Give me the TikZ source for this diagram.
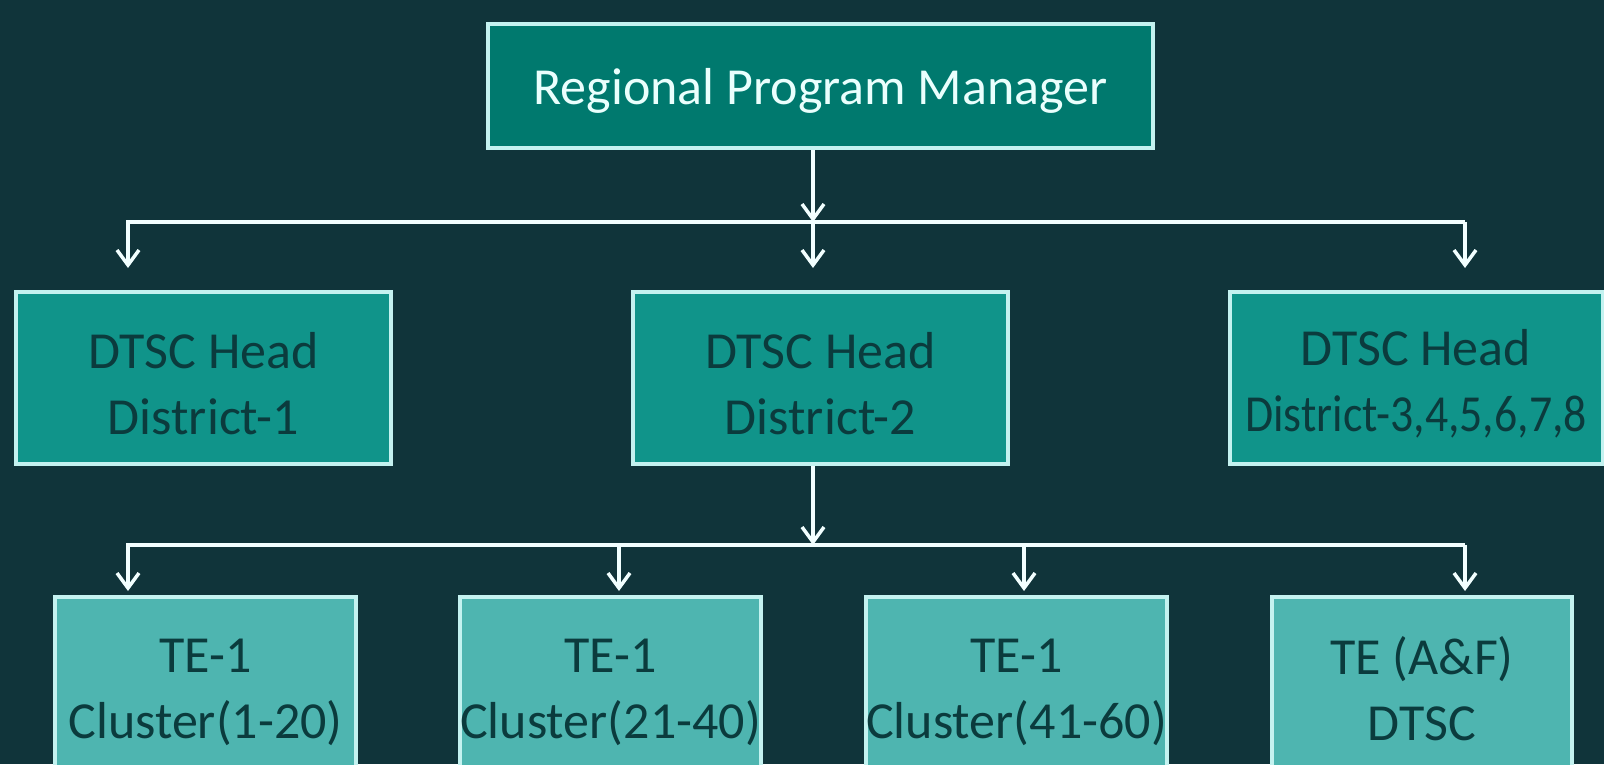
\documentclass[tikz,border=0pt]{standalone}
\usepackage{fontspec}
\setmainfont{Carlito}
\usetikzlibrary{arrows.meta}
\definecolor{bg}{HTML}{10343A}
\definecolor{edgec}{HTML}{C4F2F0}
\definecolor{topfill}{HTML}{00796E}
\definecolor{midfill}{HTML}{10948A}
\definecolor{lowfill}{HTML}{4EB5B0}
\definecolor{darktxt}{HTML}{0B3B3D}
\definecolor{lighttxt}{HTML}{EAFFFD}
\definecolor{wire}{HTML}{F2FFFF}
\newcommand{\liftA}{\rule{0pt}{46pt}}
\newcommand{\liftB}{\rule{0pt}{47pt}}
\newcommand{\liftC}{\rule{0pt}{40pt}}
\tikzset{
  orgbox/.style={draw=edgec, line width=4pt, inner sep=0pt, align=center,
    font=\fontsize{52}{66}\selectfont},
  topbox/.style={orgbox, fill=topfill, text=lighttxt, minimum width=665pt, minimum height=124pt},
  midbox/.style={orgbox, fill=midfill, text=darktxt, minimum width=375pt, minimum height=172pt},
  lowbox/.style={orgbox, fill=lowfill, text=darktxt, minimum width=300pt, minimum height=184pt},
  wireline/.style={draw=wire, line width=3.5pt},
  arr/.style={wireline, -{Straight Barb[length=15pt,width=22pt,line width=3.5pt]}}
}
\begin{document}
\begin{tikzpicture}[x=1pt,y=-1pt]
\useasboundingbox (0,0) rectangle (1604,764);
\clip (0,0) rectangle (1604,764);
\fill[bg] (0,0) rectangle (1604,764);

\node[topbox] (rpm) at (820.5,86) {\liftA Regional Program Manager};

\node[midbox] (d1) at (203.5,378) {\liftB DTSC Head\\District-1};
\node[midbox] (d2) at (820.5,378) {\liftB DTSC Head\\District-2};
\node[midbox, minimum width=373pt] (d3) at (1416,378) {\liftB DTSC Head\\\scalebox{0.88}[1]{District-3,4,5,6,7,8}};

\node[lowbox, minimum width=301pt] (c1) at (205.5,689) {\liftC TE-1\\Cluster(1-20)};
\node[lowbox] (c2) at (610.5,689) {\liftC TE-1\\Cluster(21-40)};
\node[lowbox, minimum width=298pt] (c3) at (1016.5,689) {\liftC TE-1\\Cluster(41-60)};
\node[lowbox] (c4) at (1422,689) {TE (A\&F)\\DTSC};

% first level connectors
\coordinate (j1) at (813,222);
\coordinate (l1) at (128,222);
\coordinate (r1) at (1465,222);
\coordinate (a1) at (128,268);
\coordinate (a2) at (813,268);
\coordinate (a3) at (1465,268);
\draw[arr] (r1) -- (l1) -- (a1);
\draw[arr] (r1) -- (a3);
\draw[arr] (j1) -- (a2);
\draw[arr] (rpm.south -| j1) -- (j1);

% second level connectors
\coordinate (j2) at (813,545);
\coordinate (l2) at (128,545);
\coordinate (r2) at (1465,545);
\coordinate (b1) at (128,591);
\coordinate (b2) at (619,591);
\coordinate (b3) at (1024,591);
\coordinate (b4) at (1465,591);
\draw[arr] (r2) -- (l2) -- (b1);
\draw[arr] (r2) -- (b4);
\draw[arr] (b2 |- l2) -- (b2);
\draw[arr] (b3 |- l2) -- (b3);
\draw[arr] (d2.south -| j2) -- (j2);
\end{tikzpicture}
\end{document}
